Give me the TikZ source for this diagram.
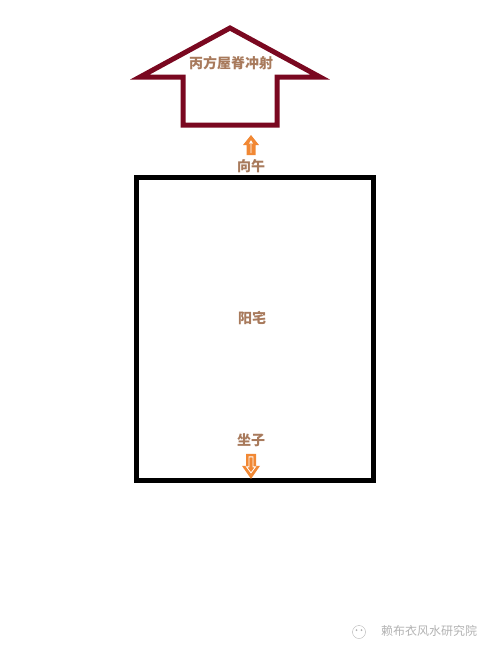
\documentclass[tikz,border=0pt]{standalone}
\usepackage{fontspec}
\newfontfamily\cjk{Noto Sans CJK SC}
\usetikzlibrary{positioning}

\definecolor{roofred}{RGB}{122,8,32}
\definecolor{tagbrown}{RGB}{168,122,92}
\definecolor{dirorange}{RGB}{241,136,52}
\definecolor{markgray}{RGB}{178,178,178}

\begin{document}
\begin{tikzpicture}[x=1pt,y=-1pt,semithick,node distance=2pt]
  \tikzstyle{every node}=[font=\cjk\fontsize{14}{16}\selectfont,inner sep=1pt]
  \tikzstyle{tag}=[text=tagbrown,font=\cjk\bfseries\fontsize{14}{16}\selectfont]
  \tikzstyle{dirfill}=[fill=dirorange,draw=none]
  \tikzstyle{dirline}=[draw=white,line width=0.8pt]

  \useasboundingbox (0,0) rectangle (490,654);

  % roof arrow
  \draw[roofred,line width=5pt,line join=miter]
    (230,28) -- (320,77) -- (277,77) -- (277,125) -- (183,125)
    -- (183,77) -- (140,77) -- cycle;
  \node[tag] (roof) at (231,63) {丙方屋脊冲射};

  % house
  \draw[line width=5pt] (136,177) rectangle (373,480);
  \node[tag] (house) at (252,318) {阳宅};

  % facing
  \node[tag] (face) at (251,166) {向午};
  \coordinate[above=3pt of face] (upbase);
  \filldraw[dirfill] (upbase) ++(-4.5,0) -- ++(0,-10) -- ++(-3.5,0) -- ++(8,-10)
    -- ++(8,10) -- ++(-3.5,0) -- ++(0,10) -- cycle;
  \draw[dirline] (upbase) ++(0,-2) -- ++(0,-12) ++(-1.5,2.5) -- ++(1.5,-2.5) -- ++(1.5,2.5);

  % sitting
  \node[tag] (sit) at (251,440) {坐子};
  \coordinate[below=6pt of sit] (downtop);
  \filldraw[dirfill] (downtop) ++(-5,0) -- ++(0,12) -- ++(-4,0) -- ++(9,13)
    -- ++(9,-13) -- ++(-4,0) -- ++(0,-12) -- cycle;
  \draw[dirline] (downtop) ++(-2,3) -- ++(0,10) -- ++(-2.5,0) -- ++(4.5,6)
    -- ++(4.5,-6) -- ++(-2.5,0) -- ++(0,-10) -- cycle;

  % watermark
  \node[text=markgray,font=\cjk\fontsize{12}{14}\selectfont] (mark) at (429,631) {赖布衣风水研究院};
  \draw[markgray,thin] (359,632) circle (6.5);
  \fill[markgray] (356.5,630) circle (1) (361.5,630) circle (1);
\end{tikzpicture}
\end{document}
